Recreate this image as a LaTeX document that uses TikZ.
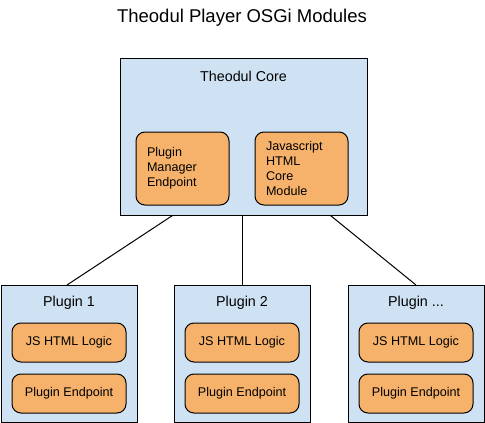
\documentclass[tikz,border=0pt]{standalone}
\usepackage{fontspec}
\setmainfont{Liberation Sans}
\usepackage{tikz}
\usetikzlibrary{calc}
\usepackage{xcolor}
\definecolor{modblue}{HTML}{CFE2F3}
\definecolor{partorange}{HTML}{F6B26B}
\tikzset{
  modbox/.style={draw=black, line width=1pt, fill=modblue, inner sep=0pt},
  partbox/.style={draw=black, line width=1pt, fill=partorange, rounded corners=9pt,
    minimum width=114pt, minimum height=39pt, inner sep=0pt,
    font=\fontsize{12.6}{15}\selectfont},
  corepart/.style={partbox, minimum width=93pt, minimum height=73pt,
    text width=71pt, align=left},
  modlabel/.style={font=\fontsize{14.3}{17}\selectfont},
  link/.style={draw=black, line width=1pt}
}

\begin{document}
\begin{tikzpicture}[x=1pt,y=-1pt]
\useasboundingbox (0,0) rectangle (485,423);
\node [font=\fontsize{18.5}{22}\selectfont] (title) at (242,18) {Theodul Player OSGi Modules};

\node [modbox, minimum width=247pt, minimum height=157pt] (core) at (243.5,136.5) {};
\node [modlabel] (corelabel) at (243.5,76) {Theodul Core};
\node [corepart] (pme) at (182.5,168.5) {Plugin\\Manager\\Endpoint};
\node [corepart] (jhc) at (301.5,168.5) {Javascript\\HTML\\Core\\Module};

\node [modbox, minimum width=136pt, minimum height=137pt] (p1) at (69,354) {};
\node [modbox, minimum width=136pt, minimum height=137pt] (p2) at (242,354) {};
\node [modbox, minimum width=136pt, minimum height=137pt] (p3) at (416,354) {};

\node [modlabel] (p1label) at (69,303) {Plugin 1};
\node [modlabel] (p2label) at (242,303) {Plugin 2};
\node [modlabel] (p3label) at (416,303) {Plugin ...};

\node [partbox] (p1js) at (69,342.5) {JS HTML Logic};
\node [partbox] (p1ep) at (69,393.5) {Plugin Endpoint};
\node [partbox] (p2js) at (242,342.5) {JS HTML Logic};
\node [partbox] (p2ep) at (242,393.5) {Plugin Endpoint};
\node [partbox] (p3js) at (416,342.5) {JS HTML Logic};
\node [partbox] (p3ep) at (416,393.5) {Plugin Endpoint};

\draw [link] ([xshift=-71pt]core.south) -- ([xshift=-2pt]p1.north);
\draw [link] (core.south -| p2.north) -- (p2.north);
\draw [link] ([xshift=87pt]core.south) -- (p3.north);
\end{tikzpicture}
\end{document}
